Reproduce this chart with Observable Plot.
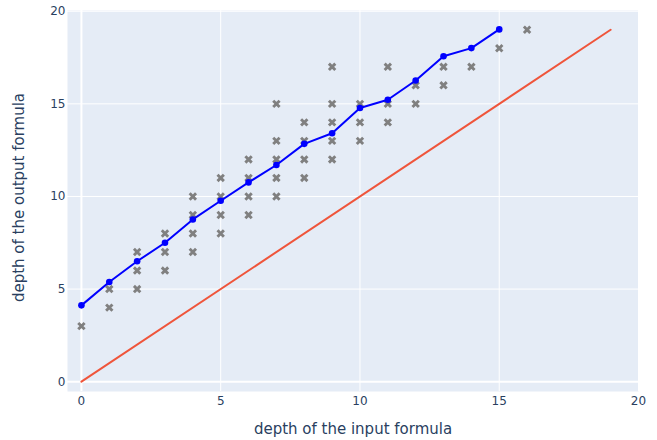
<!DOCTYPE html>
<html>
<head>
<meta charset="utf-8">
<script src="https://cdn.jsdelivr.net/npm/d3@7"></script>
<script src="https://cdn.jsdelivr.net/npm/@observablehq/plot@0.6"></script>
<style>
  html, body { margin: 0; padding: 0; background: #fff; }
  #chart { width: 657px; height: 440px; }
</style>
</head>
<body>
<div id="chart"></div>
<script>
// Scatter samples: input depth -> observed output depths
const sampleInputs = [0, 1,1, 2,2,2, 3,3,3, 4,4,4,4, 5,5,5,5, 6,6,6,6, 7,7,7,7,7, 8,8,8,8, 9,9,9,9,9, 10,10,10, 11,11,11, 12,12, 13,13, 14, 15, 16];
const sampleOutputs = [3, 4,5, 5,6,7, 6,7,8, 7,8,9,10, 8,9,10,11, 9,10,11,12, 10,11,12,13,15, 11,12,13,14, 12,13,14,15,17, 13,14,15, 14,15,17, 15,16, 16,17, 17, 18, 19];

// Mean output depth per input depth
const meanInputs = [0, 1, 2, 3, 4, 5, 6, 7, 8, 9, 10, 11, 12, 13, 14, 15];
const meanOutputs = [4.12, 5.38, 6.5, 7.5, 8.76, 9.77, 10.76, 11.7, 12.84, 13.41, 14.78, 15.22, 16.26, 17.57, 18.01, 19.02];

// Identity reference line
const identityInputs = [0, 19];
const identityOutputs = [0, 19];

const xTicks = [0, 5, 10, 15, 20];
const yTicks = [0, 5, 10, 15, 20];
const xLabel = "depth of the input formula";
const yLabel = "depth of the output formula";

const samples = sampleInputs.map((x, i) => ({x, y: sampleOutputs[i]}));
const means = meanInputs.map((x, i) => ({x, y: meanOutputs[i]}));
const identity = identityInputs.map((x, i) => ({x, y: identityOutputs[i]}));

const textColor = "#2a3f5f";

const chart = Plot.plot({
  width: 657,
  height: 440,
  marginLeft: 67,
  marginRight: 19,
  marginTop: 10,
  marginBottom: 49,
  style: { fontFamily: "'DejaVu Sans', Verdana, sans-serif", color: textColor, background: "#fff" },
  x: { domain: [-0.5, 20], ticks: xTicks },
  y: { domain: [-0.53, 20.04], ticks: yTicks },
  marks: [
    Plot.frame({ fill: "#E5ECF6", stroke: null }),
    Plot.gridX(xTicks.filter(d => d !== 0), { stroke: "#fff", strokeOpacity: 1, strokeWidth: 1 }),
    Plot.gridY(yTicks.filter(d => d !== 0), { stroke: "#fff", strokeOpacity: 1, strokeWidth: 1 }),
    Plot.gridX([0], { stroke: "#fff", strokeOpacity: 1, strokeWidth: 2 }),
    Plot.gridY([0], { stroke: "#fff", strokeOpacity: 1, strokeWidth: 2 }),
    Plot.axisX(xTicks, { tickSize: 0, tickPadding: 5, fontSize: 12, label: null, fill: textColor }),
    Plot.axisY(yTicks, { tickSize: 0, tickPadding: 2, fontSize: 12, label: null, fill: textColor }),
    Plot.text([xLabel], { frameAnchor: "bottom", dy: 38, lineAnchor: "middle", textAnchor: "middle", fontSize: 15, fill: textColor }),
    Plot.text([yLabel], { frameAnchor: "left", dx: -48.5, dy: -3.5, rotate: -90, lineAnchor: "middle", textAnchor: "middle", fontSize: 15, fill: textColor }),
    Plot.dot(samples, { x: "x", y: "y", symbol: "times", r: 3.0, stroke: "#808080", strokeWidth: 2.9 }),
    Plot.line(means, { x: "x", y: "y", stroke: "blue", strokeWidth: 2 }),
    Plot.dot(means, { x: "x", y: "y", r: 3.3, fill: "blue", stroke: "none" }),
    Plot.line(identity, { x: "x", y: "y", stroke: "#EF553B", strokeWidth: 2 })
  ]
});
document.getElementById("chart").appendChild(chart);
</script>
</body>
</html>
